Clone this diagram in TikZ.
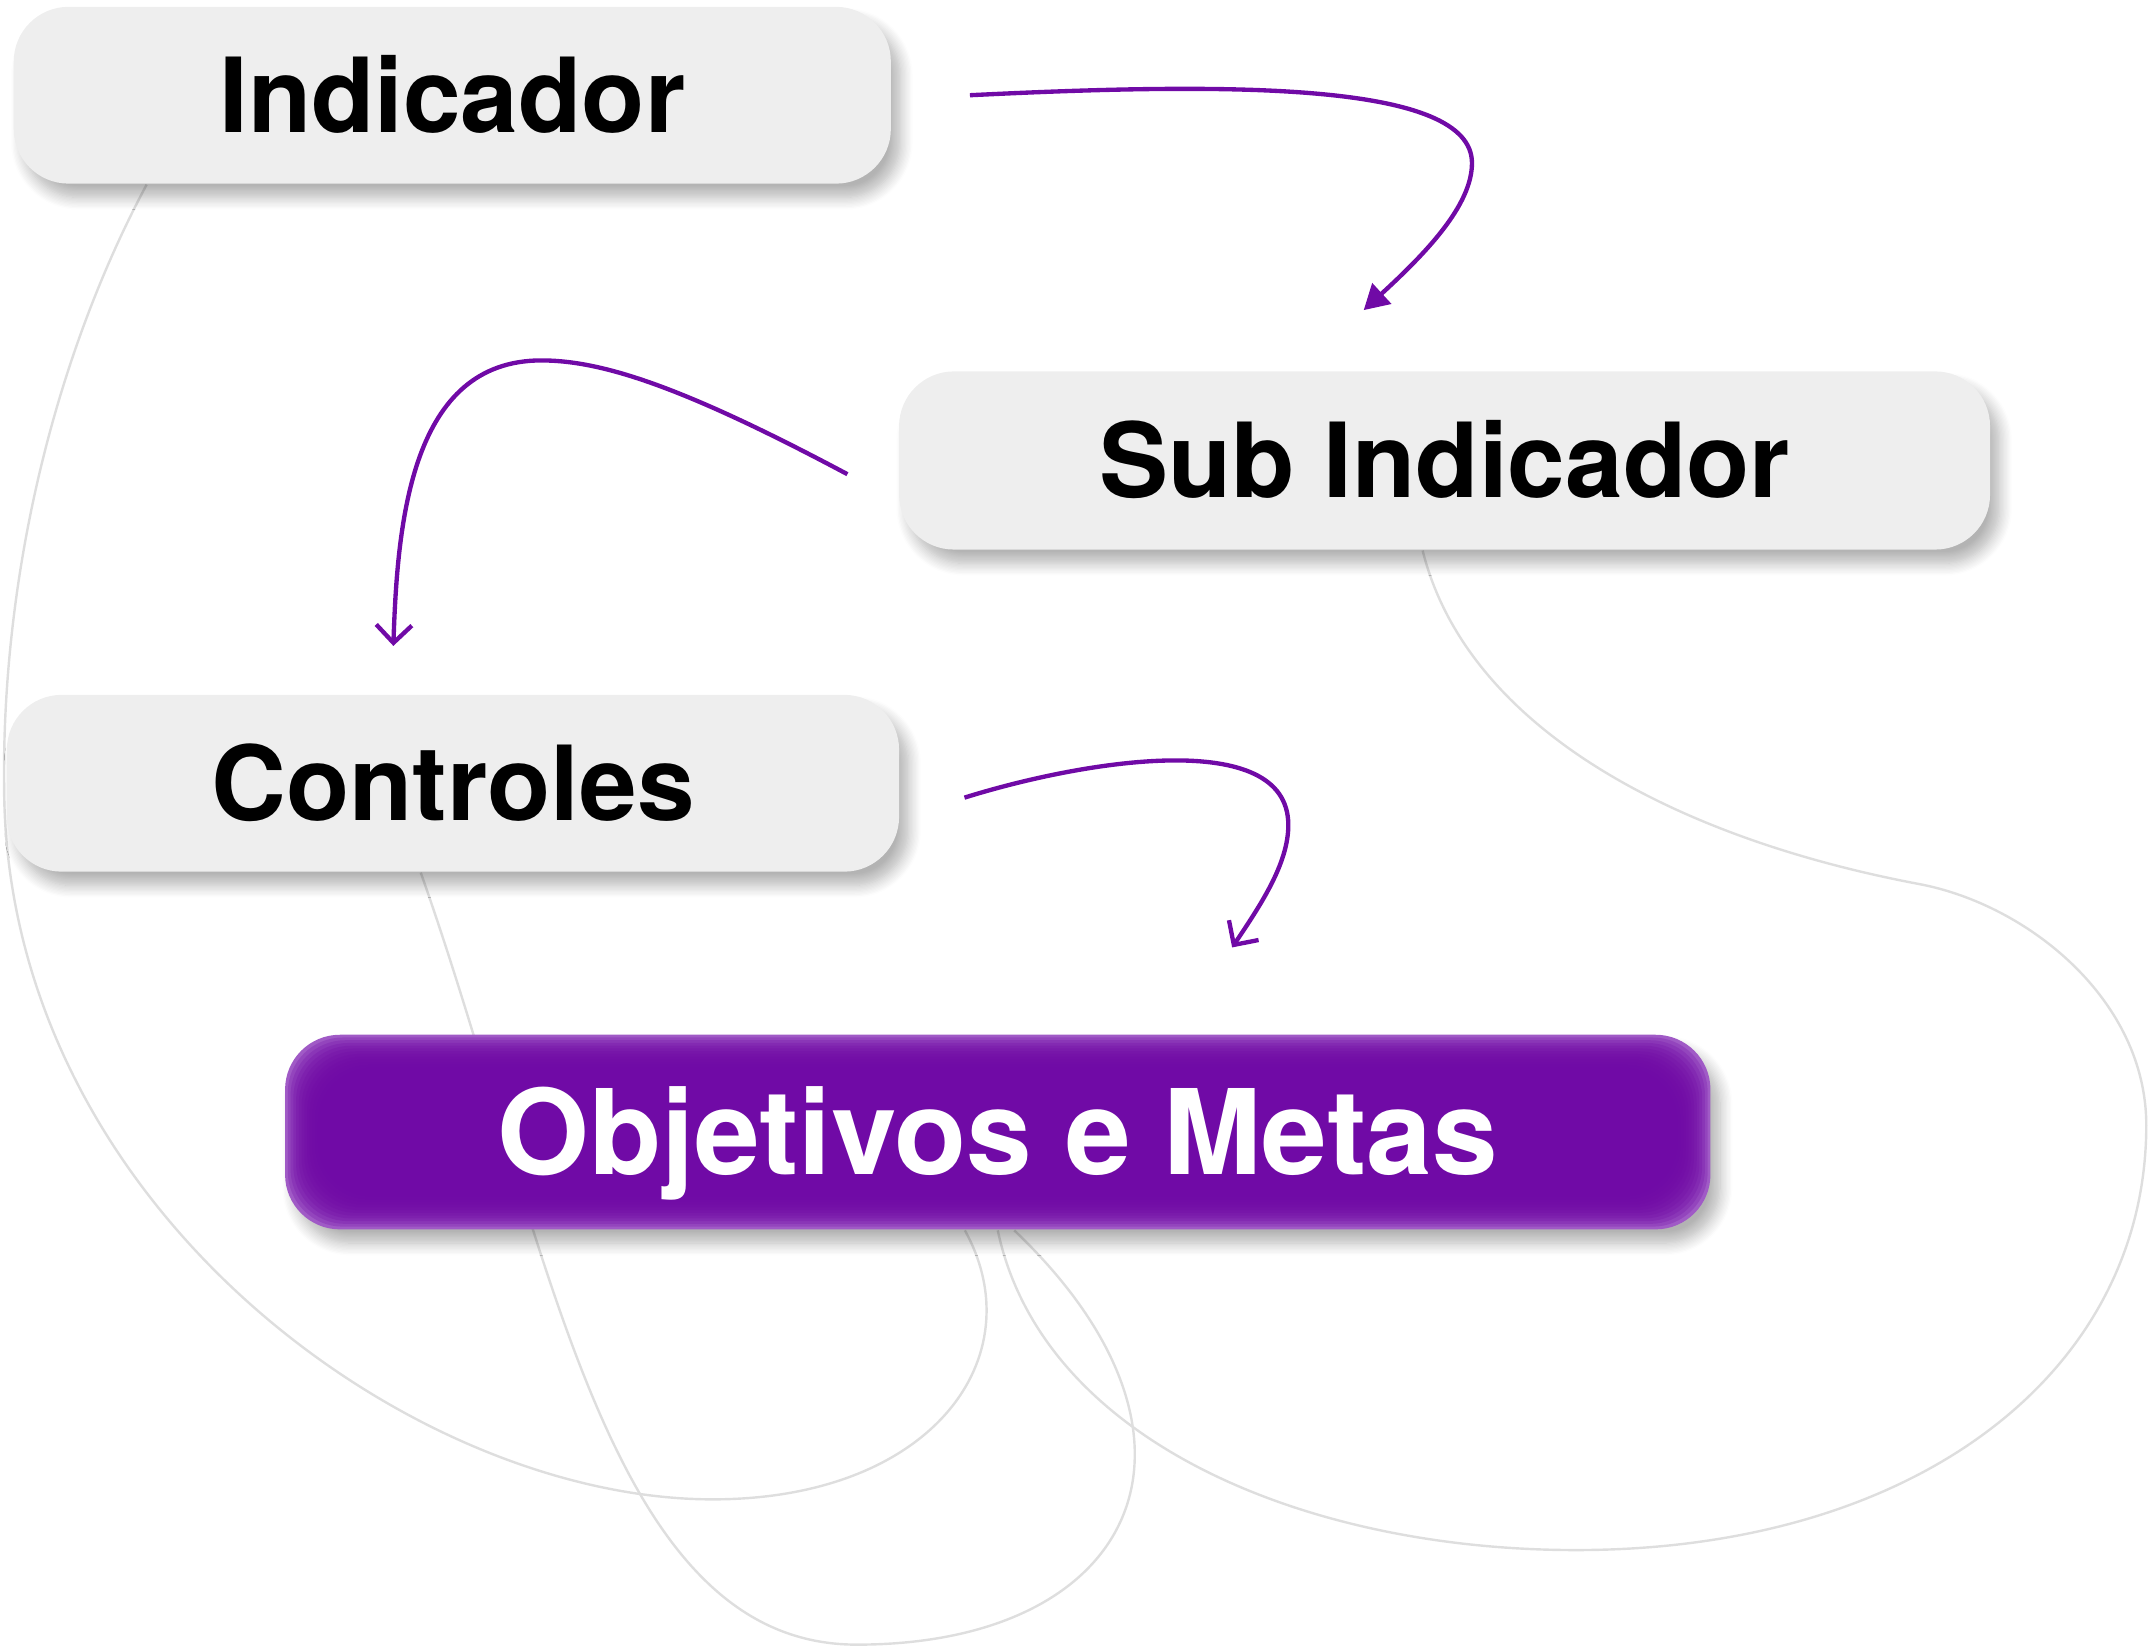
\documentclass[tikz,border=0pt]{standalone}
\usepackage{fontspec}
\setsansfont{TeX Gyre Heros}
\usetikzlibrary{arrows.meta,shadows.blur,backgrounds}
\usepackage{xcolor}
\definecolor{boxgray}{HTML}{EEEEEE}
\definecolor{objdark}{HTML}{700AA6}
\definecolor{objlight}{HTML}{A05AC6}
\definecolor{linkgray}{HTML}{DEDEDE}

\tikzset{
    card/.style={rounded corners=0.4cm, fill=boxgray, inner sep=0pt,
        font=\sffamily\bfseries\fontsize{21.5}{24}\selectfont,
        text height=15.4pt, text depth=0pt,
        blur shadow={shadow xshift=0.07cm, shadow yshift=-0.10cm,
            shadow blur radius=0.09cm, shadow blur steps=10, shadow opacity=30}},
    goal/.style={card, fill=objlight, text=white,
        font=\sffamily\bfseries\fontsize{24.5}{28}\selectfont,
        text height=17.6pt,
        path picture={
            \foreach \i in {1,...,12}
                \fill[objdark, fill opacity=0.25, rounded corners=0.4cm]
                    ([shift={(\i*0.02,\i*0.02)}]path picture bounding box.south west) rectangle
                    ([shift={(-\i*0.02,-\i*0.02)}]path picture bounding box.north east);
        }},
    flow/.style={draw=objdark, line width=0.9pt},
    link/.style={draw=linkgray, line width=0.5pt}
}

\begin{document}
\begin{tikzpicture}
    \useasboundingbox (0,0) rectangle (15.68,12.04);

    \node[card, minimum width=6.40cm, minimum height=1.29cm] (ind) at (3.30,11.345) {Indicador};
    \node[card, minimum width=7.96cm, minimum height=1.30cm] (sub) at (10.54,8.68) {Sub Indicador};
    \node[card, minimum width=6.51cm, minimum height=1.29cm] (ctl) at (3.305,6.325) {Controles};
    \node[goal, minimum width=10.40cm, minimum height=1.42cm] (obj) at (7.28,3.78) {Objetivos e Metas};

    \begin{scope}[on background layer]
        \draw[link] ([xshift=-2.23cm]ind.south) .. controls (0.40,9.44) and (0.01,7.84) .. (0.03,6.28)
            .. controls (0.05,3.24) and (3.00,1.10) .. (5.20,1.10)
            .. controls (6.80,1.10) and (7.55,2.14) .. ([xshift=-0.24cm]obj.south);
        \draw[link] ([xshift=-0.235cm]ctl.south) .. controls (4.00,3.04) and (4.40,0.04) .. (6.25,0.04)
            .. controls (8.30,0.04) and (9.00,1.54) .. ([xshift=0.12cm]obj.south);
        \draw[link] ([xshift=-0.16cm]sub.south) .. controls (10.70,6.74) and (12.20,5.93) .. (14.00,5.59)
            .. controls (14.80,5.44) and (15.66,4.74) .. (15.66,3.83)
            .. controls (15.66,2.04) and (14.00,0.73) .. (11.50,0.73)
            .. controls (9.50,0.73) and (7.60,1.54) .. (obj.south);
    \end{scope}

    \draw[flow, -{Triangle[length=1.8mm,width=2mm]}] ([xshift=0.57cm]ind.east)
        .. controls (9.00,11.44) and (10.74,11.44) .. (10.74,10.85)
        .. controls (10.74,10.54) and (10.40,10.19) .. ([shift={(-0.59cm,0.44cm)}]sub.north);
    \draw[flow, -{Straight Barb[length=1.3mm,width=2.6mm]}] ([shift={(-0.37cm,-0.10cm)}]sub.west)
        .. controls (5.00,9.21) and (4.40,9.41) .. (3.95,9.41)
        .. controls (3.00,9.41) and (2.90,8.24) .. ([shift={(-0.435cm,0.35cm)}]ctl.north);
    \draw[flow, -{Straight Barb[length=1.3mm,width=2.6mm]}] ([shift={(0.47cm,-0.105cm)}]ctl.east)
        .. controls (7.90,6.49) and (9.40,6.74) .. (9.40,6.02)
        .. controls (9.40,5.74) and (9.20,5.44) .. ([shift={(1.71cm,0.63cm)}]obj.north);
\end{tikzpicture}
\end{document}
